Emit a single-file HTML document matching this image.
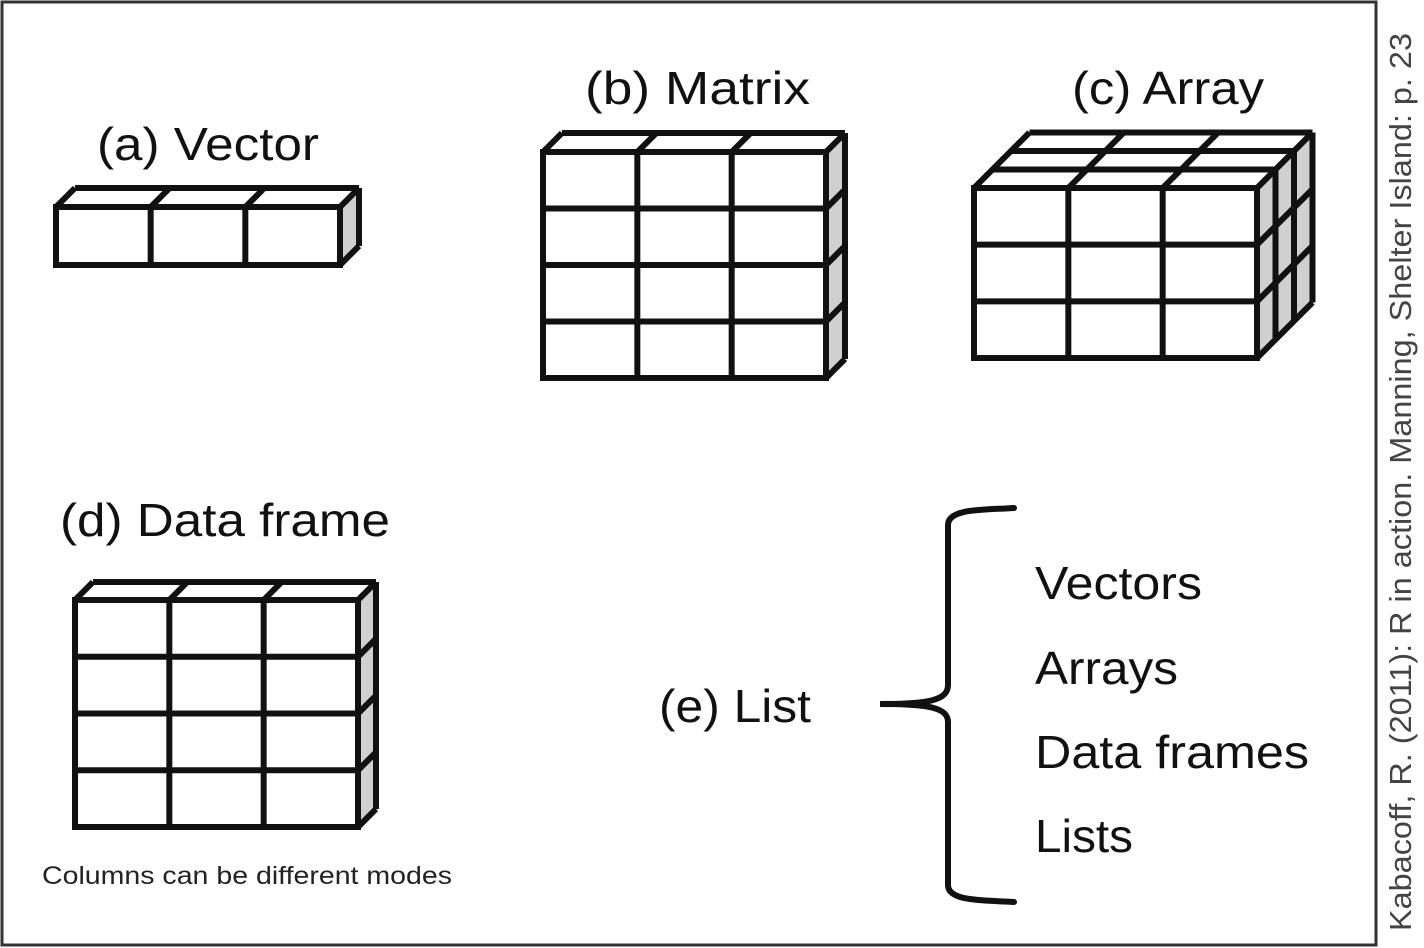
<!DOCTYPE html>
<html><head><meta charset="utf-8"><style>
html,body{margin:0;padding:0;background:#fff;}
svg{display:block;}
text{font-family:"Liberation Sans",sans-serif;}
</style></head><body>
<svg id="s" width="1424" height="948" viewBox="0 0 1424 948" xmlns="http://www.w3.org/2000/svg">
<rect x="2" y="2" width="1374" height="943" fill="#fff" stroke="#333" stroke-width="3"/>
<text transform="translate(1411,931) rotate(-90)" font-size="31" fill="#444" textLength="898" lengthAdjust="spacingAndGlyphs">Kabacoff, R. (2011): R in action. Manning, Shelter Island: p. 23</text>
<g font-size="46" fill="#111">
<text x="97" y="160" textLength="222" lengthAdjust="spacingAndGlyphs">(a) Vector</text>
<text x="585" y="104" textLength="225" lengthAdjust="spacingAndGlyphs">(b) Matrix</text>
<text x="1072" y="104" textLength="192" lengthAdjust="spacingAndGlyphs">(c) Array</text>
<text x="60" y="536" textLength="330" lengthAdjust="spacingAndGlyphs">(d) Data frame</text>
<text x="659" y="722" textLength="152" lengthAdjust="spacingAndGlyphs">(e) List</text>
<text x="1035" y="599" textLength="167" lengthAdjust="spacingAndGlyphs">Vectors</text>
<text x="1035" y="684" textLength="143" lengthAdjust="spacingAndGlyphs">Arrays</text>
<text x="1035" y="768" textLength="274" lengthAdjust="spacingAndGlyphs">Data frames</text>
<text x="1035" y="852" textLength="98" lengthAdjust="spacingAndGlyphs">Lists</text>
</g>
<text x="42" y="884" font-size="25" fill="#222" textLength="410" lengthAdjust="spacingAndGlyphs">Columns can be different modes</text>
<path d="M1014,508 C985,510 948,508 948,525 L948,685 C948,700 930,704 880,704 C930,704 948,708 948,722 L948,885 C948,902 985,900 1014,902" fill="none" stroke="#111" stroke-width="6" stroke-linecap="round"/>
<g id="g" stroke="#111" stroke-width="6" stroke-linejoin="miter" fill="none"></g>
</svg>
<script>
var g=document.getElementById('g'),NS='http://www.w3.org/2000/svg';
function el(n,a){var e=document.createElementNS(NS,n);for(var k in a)e.setAttribute(k,a[k]);g.appendChild(e);}
function box(x0,y0,x1,y1,cols,rows,L,s){
 var D=L*s;
 // right face fill
 el('polygon',{points:[x1,y0,x1+D,y0-D,x1+D,y1-D,x1,y1].join(' '),fill:'#d0d0d0',stroke:'none'});
 el('polygon',{points:[x0,y0,x0+D,y0-D,x1+D,y0-D,x1,y0].join(' '),fill:'#fff',stroke:'none'});
 el('rect',{x:x0,y:y0,width:x1-x0,height:y1-y0,fill:'#fff'});
 for(var i=1;i<cols;i++){var x=x0+(x1-x0)*i/cols;el('line',{x1:x,y1:y0,x2:x,y2:y1});el('line',{x1:x,y1:y0,x2:x+D,y2:y0-D});}
 for(var j=1;j<rows;j++){var y=y0+(y1-y0)*j/rows;el('line',{x1:x0,y1:y,x2:x1,y2:y});el('line',{x1:x1,y1:y,x2:x1+D,y2:y-D});}
 for(var k=1;k<=L;k++){var o=k*s;
  el('line',{x1:x0+o,y1:y0-o,x2:x1+o,y2:y0-o});
  el('line',{x1:x1+o,y1:y0-o,x2:x1+o,y2:y1-o});}
 el('line',{x1:x0,y1:y0,x2:x0+D,y2:y0-D});
 el('line',{x1:x1,y1:y0,x2:x1+D,y2:y0-D});
 el('line',{x1:x1,y1:y1,x2:x1+D,y2:y1-D});
}
box(56,207,340,265,3,1,1,19);
box(543,152,826,378,3,4,1,19);
box(974,188,1257,358,3,3,3,18.5);
box(75,600,358,827,3,4,1,18);
</script>
</body></html>
